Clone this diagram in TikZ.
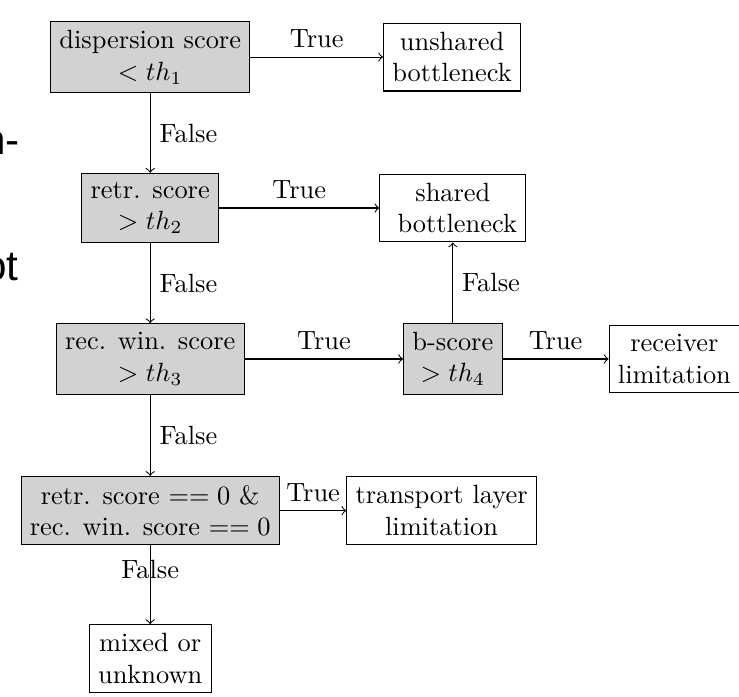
\documentclass[tikz,border=0pt]{standalone}
\usepackage{fontspec}
\newfontfamily\sidefont{Liberation Sans}
\begin{document}
\begin{tikzpicture}[x=1cm, y=1cm,
  test/.style={draw, fill=gray!35, align=center},
  result/.style={draw, fill=white, align=center}]
  \def\A{2}
  \def\B{6.03}
  \def\C{8.98}
  \useasboundingbox (0,0) rectangle (9.84,-9.28);
  % cut-off words of the text next to the figure
  \node[anchor=base east, inner sep=0pt, font=\sidefont\fontsize{16}{19}\selectfont] (side1) at (0.27,-2.06) {n-};
  \node[anchor=base east, inner sep=0pt, font=\sidefont\fontsize{16}{19}\selectfont] (side2) at (0.25,-3.73) {ot};
  % tests
  \node[test] (disp) at (\A,-0.76) {dispersion score\\ $< th_1$};
  \node[test] (retr) at (\A,-2.77) {retr. score\\ $> th_2$};
  \node[test] (recwin) at (\A,-4.78) {rec. win. score\\ $> th_3$};
  \node[test] (bscore) at (\B,-4.78) {b-score\\ $> th_4$};
  \node[test] (zero) at (\A,-6.8) {retr. score $==0$ \&\\ rec. win. score $==0$};
  % outcomes
  \node[result] (unsh) at (6.02,-0.76) {unshared\\ bottleneck};
  \node[result] (shared) at (\B,-2.77) {shared\\\ bottleneck};
  \node[result] (recv) at (\C,-4.78) {receiver\\ limitation};
  \node[result] (trans) at (5.88,-6.8) {transport layer\\ limitation};
  \node[result] (mixed) at (\A,-8.77) {mixed or\\ unknown};
  % connectors
  \draw[->] (disp) -- node[above]{True} (unsh);
  \draw[->] (disp) -- node[right]{False} (retr);
  \draw[->] (retr) -- node[above]{True} (shared);
  \draw[->] (retr) -- node[right]{False} (recwin);
  \draw[->] (recwin) -- node[above]{True} (bscore);
  \draw[->] (bscore) -- node[right]{False} (shared);
  \draw[->] (bscore) -- node[above]{True} (recv);
  \draw[->] (recwin) -- node[right]{False} (zero);
  \draw[->] (zero) -- node[above]{True} (trans);
  \draw[->] (zero) -- node[pos=0.3]{False} (mixed);
\end{tikzpicture}
\end{document}
